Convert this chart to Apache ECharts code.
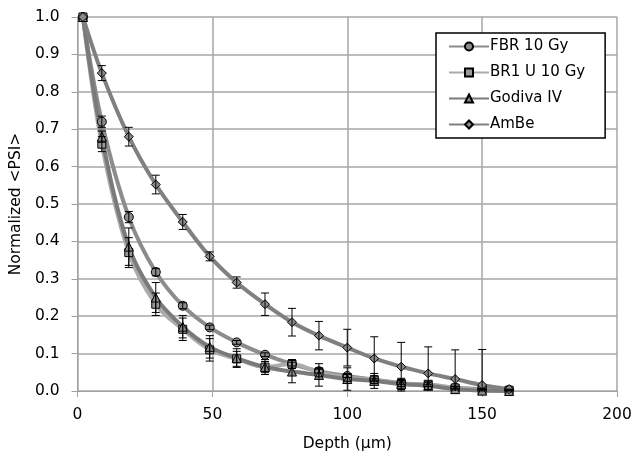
<!DOCTYPE html>
<html>
<head>
<meta charset="utf-8">
<script src="https://cdn.jsdelivr.net/npm/echarts@6/dist/echarts.min.js"></script>
<style>
  html, body { margin: 0; padding: 0; background: #fff; }
  #main { width: 637px; height: 457px; }
</style>
</head>
<body>
<div id="main"></div>
<script>
// depth positions (µm)
var depth = [2, 9, 19, 29, 39, 49, 59, 69.5, 79.5, 89.5, 100, 110, 120, 130, 140, 150, 160];

// normalized <PSI> per source
var fbr     = [1.0, 0.72, 0.465, 0.318, 0.228, 0.17, 0.13, 0.097, 0.072, 0.053, 0.04, 0.03, 0.021, 0.015, 0.009, 0.005, 0.003];
var fbrErr  = [0, 0.015, 0.015, 0.01, 0.008, 0.006, 0.005, 0.005, 0.005, 0.005, 0.004, 0.004, 0.003, 0.003, 0.003, 0.002, 0.002];
var br1     = [1.0, 0.66, 0.37, 0.232, 0.165, 0.11, 0.086, 0.064, 0.072, 0.05, 0.036, 0.03, 0.02, 0.018, 0.008, 0.003, 0.002];
var br1Err  = [0, 0.02, 0.04, 0.03, 0.03, 0.03, 0.02, 0.015, 0.012, 0.012, 0.01, 0.01, 0.008, 0.006, 0.005, 0.003, 0.002];
var godiva  = [1.0, 0.68, 0.386, 0.25, 0.172, 0.118, 0.088, 0.064, 0.052, 0.043, 0.032, 0.027, 0.019, 0.014, 0.005, 0.001, 0.0];
var godErr  = [0, 0.015, 0.05, 0.04, 0.03, 0.03, 0.025, 0.02, 0.03, 0.03, 0.03, 0.02, 0.015, 0.01, 0.006, 0.003, 0.002];
var ambe    = [1.0, 0.85, 0.68, 0.552, 0.452, 0.36, 0.29, 0.232, 0.184, 0.148, 0.116, 0.087, 0.065, 0.047, 0.032, 0.016, 0.005];
var ambeErr = [0, 0.02, 0.025, 0.025, 0.02, 0.012, 0.015, 0.03, 0.037, 0.038, 0.049, 0.058, 0.065, 0.071, 0.078, 0.095, 0];

var yTicks = ['0.0', '0.1', '0.2', '0.3', '0.4', '0.5', '0.6', '0.7', '0.8', '0.9', '1.0'];

var FONT = 'DejaVu Sans';
var FS = 15.5;

function pairs(xs, ys) {
    return xs.map(function (x, i) { return [x, ys[i]]; });
}
function errPairs(xs, ys, es) {
    return xs.map(function (x, i) { return [x, ys[i] - es[i], ys[i] + es[i]]; });
}

// error bar drawn through the axes' scales, clipped to the plot area
function renderErr(params, api) {
    var lo = api.coord([api.value(0), api.value(1)]);
    var hi = api.coord([api.value(0), api.value(2)]);
    if (Math.abs(lo[1] - hi[1]) < 1) return null;
    var cs = params.coordSys;
    var bottom = cs.y + cs.height;
    var w = 4;
    var st = { stroke: '#000', lineWidth: 1 };
    var y1 = Math.min(lo[1], bottom);
    var kids = [
        { type: 'line', shape: { x1: lo[0], y1: y1, x2: hi[0], y2: hi[1] }, style: st },
        { type: 'line', shape: { x1: hi[0] - w, y1: hi[1], x2: hi[0] + w, y2: hi[1] }, style: st }
    ];
    if (lo[1] <= bottom) {
        kids.push({ type: 'line', shape: { x1: lo[0] - w, y1: lo[1], x2: lo[0] + w, y2: lo[1] }, style: st });
    }
    return { type: 'group', children: kids };
}

function lineSeries(name, data, lineColor, symbol, size, fill) {
    return {
        name: name,
        type: 'line',
        data: pairs(depth, data),
        smooth: 0.35,
        symbol: symbol,
        symbolSize: size,
        lineStyle: { color: lineColor, width: 4 },
        itemStyle: { color: fill, borderColor: '#000', borderWidth: 1 },
        z: 3
    };
}
function errSeries(name, data, err) {
    return {
        name: name,
        type: 'custom',
        renderItem: renderErr,
        data: errPairs(depth, data, err),
        encode: { x: 0, y: [1, 2] },
        z: 4,
        silent: true
    };
}

var chart = echarts.init(document.getElementById('main'));
chart.setOption({
    animation: false,
    backgroundColor: '#fff',
    grid: { left: 77, right: 20, top: 17, bottom: 66 },
    legend: {
        data: ['FBR 10 Gy', 'BR1 U 10 Gy', 'Godiva IV', 'AmBe'],
        orient: 'vertical',
        left: 436,
        top: 33,
        width: 167,
        height: 104,
        padding: [6, 20, 6, 12],
        itemGap: 11,
        itemWidth: 40,
        itemHeight: 10,
        borderColor: '#000',
        borderWidth: 1.5,
        backgroundColor: '#fff',
        textStyle: { fontFamily: FONT, fontSize: 15, color: '#000', padding: [0, 0, 0, -4] }
    },
    xAxis: {
        type: 'value',
        min: 0, max: 200, interval: 50,
        name: 'Depth (μm)',
        nameLocation: 'middle',
        nameGap: 45,
        nameTextStyle: { fontFamily: FONT, fontSize: FS, color: '#000' },
        axisLine: { lineStyle: { color: '#a0a0a0', width: 1 } },
        axisTick: { show: true, length: 6, lineStyle: { color: '#a0a0a0' } },
        axisLabel: { fontFamily: FONT, fontSize: FS, color: '#000', margin: 16 },
        splitLine: { lineStyle: { color: '#a6a6a6', width: 1.5 } }
    },
    yAxis: {
        type: 'value',
        min: 0, max: 1, interval: 0.1,
        name: 'Normalized <PSI>',
        nameLocation: 'middle',
        nameGap: 50,
        nameTextStyle: { fontFamily: FONT, fontSize: FS, color: '#000' },
        axisLine: { show: true, lineStyle: { color: '#a0a0a0', width: 1 } },
        axisTick: { show: true, length: 6, lineStyle: { color: '#a0a0a0' } },
        axisLabel: {
            fontFamily: FONT, fontSize: FS, color: '#000', margin: 18,
            formatter: function (v) { return yTicks[Math.round(v * 10)]; }
        },
        splitLine: { lineStyle: { color: '#a6a6a6', width: 1.5 } }
    },
    series: [
        lineSeries('FBR 10 Gy', fbr, '#8c8c8c', 'circle', 9, '#8c8c8c'),
        lineSeries('BR1 U 10 Gy', br1, '#ababab', 'rect', 8, '#9a9a9a'),
        lineSeries('Godiva IV', godiva, '#7a7a7a', 'triangle', 9, '#8a8a8a'),
        lineSeries('AmBe', ambe, '#808080', 'diamond', 9, '#8a8a8a'),
        errSeries('FBR 10 Gy', fbr, fbrErr),
        errSeries('BR1 U 10 Gy', br1, br1Err),
        errSeries('Godiva IV', godiva, godErr),
        errSeries('AmBe', ambe, ambeErr)
    ]
});
</script>
</body>
</html>
